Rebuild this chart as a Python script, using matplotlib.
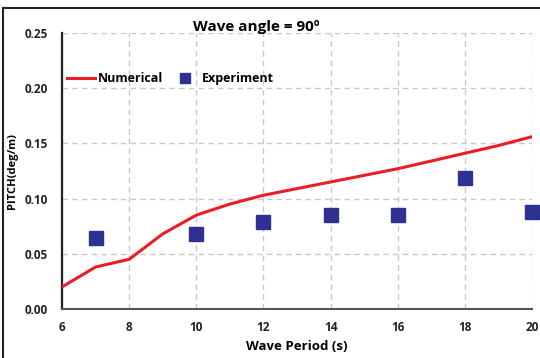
import matplotlib.pyplot as plt
import matplotlib as mpl
from matplotlib.lines import Line2D

mpl.rc('font', family=['Open Sans', 'DejaVu Sans'], weight='bold')
mpl.rc('axes', labelweight='bold')

period_num = [6, 7, 8, 9, 10, 11, 12, 13, 14, 15, 16, 17, 18, 19, 20]
pitch_num = [0.020, 0.038, 0.045, 0.068, 0.085, 0.095, 0.103, 0.109, 0.115, 0.121, 0.127, 0.134, 0.141, 0.148, 0.156]

period_exp = [7, 10, 12, 14, 16, 18, 20]
pitch_exp = [0.064, 0.068, 0.079, 0.085, 0.085, 0.119, 0.088]

xticks = [6, 8, 10, 12, 14, 16, 18, 20]
yticks = [0.00, 0.05, 0.10, 0.15, 0.20, 0.25]

fig = plt.figure(figsize=(5.4, 3.58), dpi=100)
ax = fig.add_axes([0.115, 0.137, 0.870, 0.771])

ax.plot(period_num, pitch_num, color='#ED1C24', lw=2.2, label='Numerical', zorder=3)
ax.plot(period_exp, pitch_exp, ls='none', marker='s', ms=10.5, color='#2E3192',
        label='Experiment', zorder=4, clip_on=False)

ax.set_xlim(6, 20)
ax.set_ylim(0, 0.25)
ax.set_xticks(xticks)
ax.set_yticks(yticks)
ax.set_yticklabels([f'{v:.2f}' for v in yticks])
ax.tick_params(length=0, labelsize=8.5, colors='#222222', pad=9)
ax.tick_params(axis='y', pad=10)

ax.grid(True, ls=(0, (4, 3)), color='#C8C8C8', lw=1)
for s in ['top', 'right']:
    ax.spines[s].set_visible(False)
ax.spines['left'].set_color('#222222')
ax.spines['left'].set_linewidth(1.6)
ax.spines['bottom'].set_color('#555555')
ax.spines['bottom'].set_linewidth(1.5)

ax.set_xlabel('Wave Period (s)', fontsize=9.5, fontweight='bold', labelpad=4)
ax.set_ylabel('PITCH(deg/m)', fontsize=8, fontweight='bold', labelpad=5)
fig.text(0.474, 0.925, 'Wave angle = 90º', ha='center', va='center', fontsize=11,
         fontweight='bold')

ax.legend(loc='upper left', bbox_to_anchor=(0.0, 0.875), frameon=False, ncol=2,
          handlelength=2.2, handletextpad=0.3, columnspacing=0.6, markerscale=0.75,
          borderaxespad=0, prop={'weight': 'bold', 'size': 9})

fig.add_artist(Line2D([0.005, 1.0], [0.978, 0.978], color='#222222', lw=1.5))
fig.add_artist(Line2D([0.006, 0.006], [0.0, 0.978], color='#222222', lw=1.5))

plt.savefig('out.png', dpi=100)
